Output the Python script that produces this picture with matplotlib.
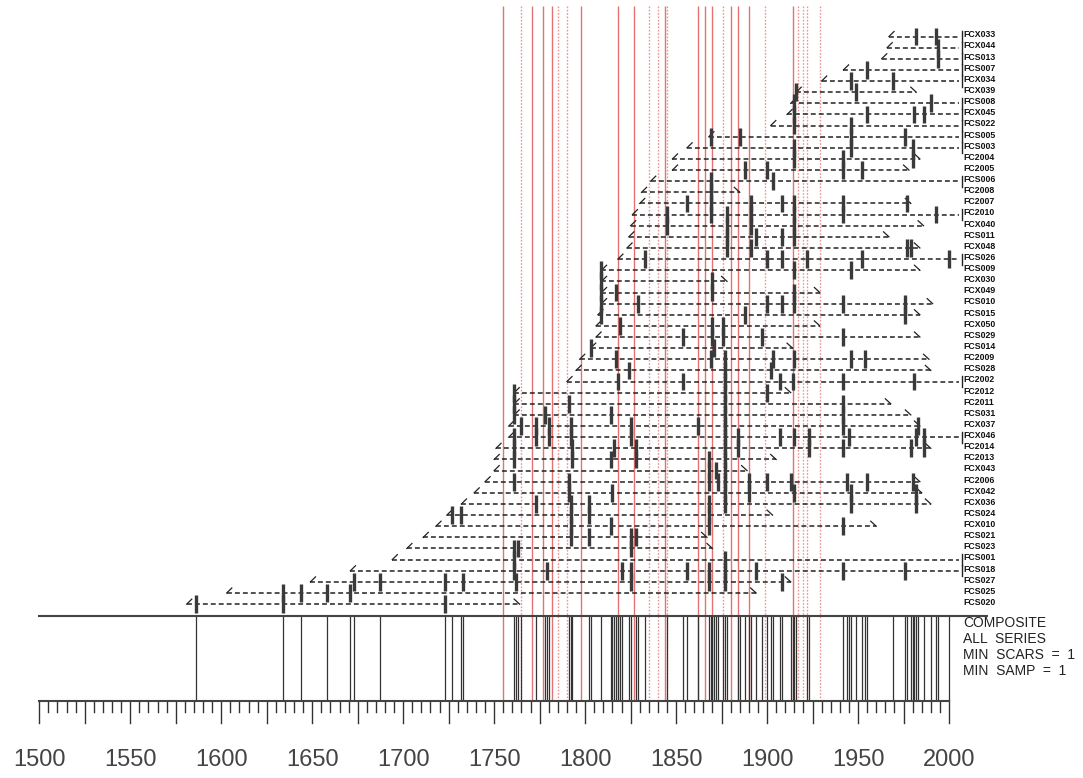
import matplotlib.pyplot as plt

# sample ids, top to bottom
names = ['FCX033', 'FCX044', 'FCS013', 'FCS007', 'FCX034', 'FCX039', 'FCS008',
         'FCX045', 'FCS022', 'FCS005', 'FCS003', 'FC2004', 'FC2005', 'FCS006',
         'FC2008', 'FC2007', 'FC2010', 'FCX040', 'FCS011', 'FCX048', 'FCS026',
         'FCS009', 'FCX030', 'FCX049', 'FCS010', 'FCS015', 'FCX050', 'FCS029',
         'FCS014', 'FC2009', 'FCS028', 'FC2002', 'FC2012', 'FC2011', 'FCS031',
         'FCX037', 'FCX046', 'FC2014', 'FC2013', 'FCX043', 'FC2006', 'FCX042',
         'FCX036', 'FCS024', 'FCX010', 'FCS021', 'FCS023', 'FCS001', 'FCS018',
         'FCS027', 'FCS025', 'FCS020']

inner = [1967, 1966, 1963, 1942, 1930, 1916, 1913, 1911, 1902, 1868, 1856, 1848, 1848,
         1836, 1831, 1830, 1826, 1825, 1824, 1823, 1818, 1809, 1809, 1809, 1809, 1807,
         1806, 1806, 1803, 1797, 1795, 1790, 1761, 1761, 1761, 1758, 1758, 1751, 1750,
         1750, 1745, 1739, 1732, 1724, 1718, 1711, 1702, 1694, 1671, 1649, 1603, 1581]

outer = [2007, 2007, 2007, 2007, 2007, 1982, 2007, 2007, 2007, 2007, 2007, 1984, 1978,
         2007, 1885, 1979, 2007, 1986, 1967, 1984, 2007, 1984, 1878, 1929, 1991, 1984,
         1929, 1984, 1914, 1989, 1990, 2007, 1913, 1968, 1979, 1984, 2007, 1990, 1905,
         1889, 1984, 1985, 1990, 1903, 1960, 1867, 1870, 2007, 2007, 1913, 1894, 1764]

# 1 = outer ring is bark
bark = [1, 1, 1, 1, 1, 0, 1, 1, 1, 1, 1, 0, 0, 1, 0, 0, 1, 0, 0, 0, 1, 0, 0, 0, 0, 0,
        0, 0, 0, 0, 0, 1, 0, 0, 0, 0, 1, 0, 0, 0, 0, 0, 0, 0, 0, 0, 0, 1, 1, 0, 0, 0]

scars = [
    [1982, 1993], [1994], [1994], [1955], [1946, 1969], [1916, 1949],
    [1915, 1990], [1915, 1955, 1981, 1986], [1915, 1946], [1869, 1885, 1946, 1976],
    [1915, 1946, 1980], [1915, 1942, 1980], [1888, 1900, 1942, 1952], [1869, 1903],
    [1869], [1856, 1869, 1891, 1908, 1915, 1942, 1977],
    [1845, 1869, 1878, 1891, 1915, 1942, 1993], [1845, 1878, 1891, 1915],
    [1878, 1894, 1908, 1915], [1878, 1891, 1977, 1979],
    [1833, 1900, 1908, 1922, 1952, 2000], [1809, 1915, 1946], [1809, 1870],
    [1809, 1817, 1870, 1915], [1809, 1829, 1900, 1908, 1915, 1942, 1976],
    [1809, 1888, 1976], [1819, 1870, 1876], [1854, 1870, 1876, 1897, 1942],
    [1803, 1871], [1817, 1869, 1877, 1903, 1915, 1946, 1954], [1824, 1877, 1902],
    [1818, 1854, 1877, 1907, 1914, 1942, 1981], [1761, 1877, 1900],
    [1761, 1791, 1877, 1942], [1761, 1778, 1814, 1877, 1942],
    [1765, 1773, 1780, 1792, 1825, 1862, 1877, 1942, 1983],
    [1761, 1773, 1780, 1792, 1825, 1877, 1884, 1907, 1915, 1923, 1945, 1982, 1986],
    [1761, 1793, 1816, 1828, 1877, 1884, 1923, 1942, 1979, 1986],
    [1761, 1793, 1814, 1828, 1868, 1877], [1868, 1872, 1877],
    [1761, 1791, 1868, 1873, 1877, 1890, 1900, 1913, 1944, 1955, 1980],
    [1791, 1815, 1877, 1890, 1915, 1946, 1982],
    [1773, 1792, 1802, 1868, 1877, 1946, 1982], [1727, 1732, 1792, 1802, 1868],
    [1792, 1814, 1868, 1942], [1792, 1802, 1825, 1828], [1761, 1763, 1825],
    [1761, 1877], [1761, 1779, 1820, 1825, 1856, 1868, 1877, 1894, 1942, 1976],
    [1673, 1687, 1723, 1733, 1762, 1825, 1868, 1877, 1908],
    [1634, 1644, 1658, 1671], [1586, 1634, 1723],
]

# regional fire years drawn as red guide lines
red_solid = [1755, 1771, 1777, 1782, 1798, 1818, 1827, 1844, 1862, 1866, 1870,
             1880, 1884, 1890, 1914]
red_dotted = [1765, 1785, 1790, 1835, 1840, 1845, 1876, 1899, 1917, 1920, 1922, 1929]

composite = sorted(set(y for s in scars for y in s))

fig = plt.figure(figsize=(10.83, 7.78), dpi=100)
ax = fig.add_axes([0, 0, 1, 1])
ax.set_xlim(1478.4, 2073.65)
ax.set_ylim(66.62, -3.28)
ax.axis('off')

comp_top, axis_y = 52.07, 59.7

ax.vlines(red_solid, -2.75, axis_y, color='#e47272', lw=1.0, zorder=1)
ax.vlines(red_dotted, -2.75, axis_y, color='#ee9494', lw=1.0,
          linestyles=(0, (1.2, 1.2)), zorder=1)

ink = '#222222'
for i, nm in enumerate(names):
    a, b = inner[i], outer[i]
    end = b - 1.5 if bark[i] else b
    ax.plot([a, end], [i, i], color=ink, lw=1.1, ls=(0, (3.2, 2.0)), zorder=3)
    ax.plot([a, a + 2.8], [i, i - 0.45], color=ink, lw=0.9, zorder=3)
    if bark[i]:
        ax.plot([b, b], [i - 0.5, i + 0.5], color=ink, lw=1.0, zorder=3)
    else:
        ax.plot([b - 3.0, b], [i - 0.45, i], color=ink, lw=0.9, zorder=3)
    ax.vlines(scars[i], i - 0.8, i + 0.8, color='#3a3a3a', lw=2.4, zorder=4)
    ax.text(2007.8, i - 0.15, nm, fontsize=6.3, fontweight='bold', color='#111',
            family=['Liberation Sans', 'DejaVu Sans'], va='center', ha='left')

# composite of all fire years
ax.plot([1500, 2020.7], [comp_top, comp_top], color='#444', lw=1.5, zorder=3)
ax.vlines(composite, comp_top, axis_y, color='#333', lw=0.9, zorder=2)
ax.plot([1500, 2000], [axis_y, axis_y], color='#444', lw=1.5, zorder=3)

for yr in range(1500, 2001, 5):
    low = 61.68 if yr % 25 == 0 else 60.69
    ax.plot([yr, yr], [axis_y, low], color='#333', lw=1.0)
for yr in range(1500, 2001, 50):
    ax.text(yr, 65.0, str(yr), fontsize=17, color='#444', ha='center', va='center',
            family=['Liberation Sans Narrow', 'Liberation Sans', 'DejaVu Sans'],
            stretch='condensed')

for k, line in enumerate(['COMPOSITE', 'ALL  SERIES', 'MIN  SCARS  =  1',
                          'MIN  SAMP  =  1']):
    ax.text(2007.8, 52.7 + 1.43 * k, line, fontsize=10, color='#222',
            family=['Liberation Sans Narrow', 'Liberation Sans', 'DejaVu Sans'],
            va='center', ha='left')

fig.savefig('out.png', dpi=100)
